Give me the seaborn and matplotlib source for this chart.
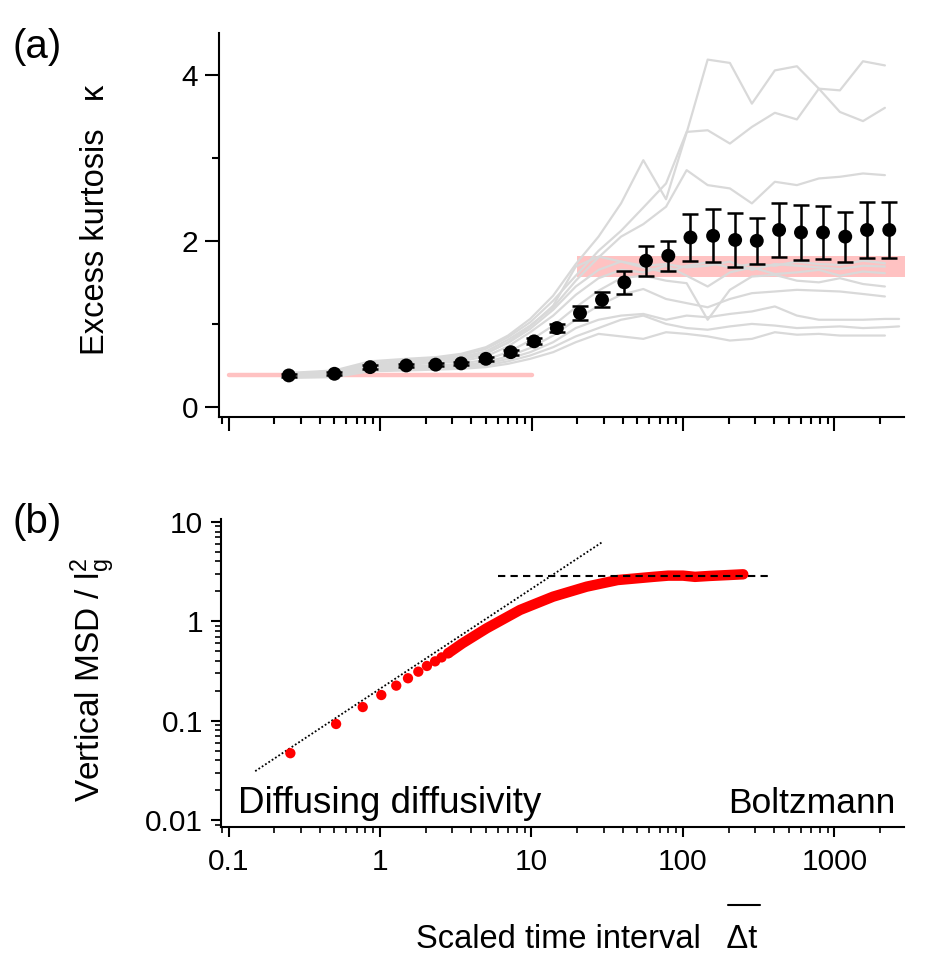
import numpy as np
import pandas as pd
import matplotlib
matplotlib.use("Agg")
import matplotlib.pyplot as plt
from matplotlib.ticker import MultipleLocator, LogLocator, FuncFormatter, NullFormatter
from matplotlib.lines import Line2D
import seaborn as sns

# ---------------- data: panel (a) ----------------
t_points = [0.25, 0.5, 0.86, 1.49, 2.33, 3.43, 5.0, 7.3, 10.4, 14.7, 20.9, 29.2, 41, 57,
            80, 112, 158, 221, 307, 431, 601, 840, 1178, 1640, 2300]
kappa_mean = [0.38, 0.40, 0.48, 0.50, 0.51, 0.525, 0.58, 0.66, 0.79, 0.95, 1.13, 1.29, 1.50,
              1.76, 1.82, 2.04, 2.06, 2.01, 2.00, 2.13, 2.10, 2.10, 2.05, 2.13, 2.13]
kappa_err = [0.02, 0.02, 0.02, 0.02, 0.02, 0.02, 0.025, 0.03, 0.035, 0.045, 0.08, 0.09, 0.14,
             0.18, 0.18, 0.28, 0.32, 0.32, 0.28, 0.32, 0.33, 0.32, 0.30, 0.34, 0.34]

t_traj = [0.25, 0.5, 0.86, 1.49, 2.33, 3.43, 5.0, 7.0, 9.8, 13.9, 19.6, 27.7, 39, 54.7, 77.3,
          105.7, 145.5, 204, 285, 404, 565, 789, 1086, 1542, 2152, 2670]
nan = np.nan
traj_A = [0.41, 0.44, 0.55, 0.58, 0.60, 0.64, 0.72, 0.86, 1.06, 1.34, 1.72, 2.05, 2.45, 2.97, 2.50,
          3.30, 4.18, 4.14, 3.65, 4.05, 4.10, 3.83, 3.81, 4.16, 4.11, nan]
traj_B = [0.40, 0.43, 0.53, 0.56, 0.58, 0.62, 0.70, 0.84, 1.02, 1.28, 1.58, 1.88, 2.12, 2.40, 2.69,
          3.31, 3.33, 3.17, 3.37, 3.54, 3.46, 3.83, 3.55, 3.44, 3.60, nan]
traj_C = [0.39, 0.42, 0.51, 0.54, 0.57, 0.60, 0.67, 0.81, 0.98, 1.20, 1.52, 1.80, 2.05, 2.20, 2.41,
          2.85, 2.67, 2.63, 2.45, 2.71, 2.67, 2.75, 2.77, 2.81, 2.79, nan]
traj_D = [0.38, 0.41, 0.49, 0.52, 0.54, 0.57, 0.64, 0.78, 0.97, 1.22, 1.69, 1.81, 1.75, 1.70, 1.72,
          1.68, 1.70, 1.75, 1.65, 1.72, 1.70, 1.68, 1.66, 1.70, 1.69, nan]
traj_E = [0.38, 0.40, 0.48, 0.51, 0.53, 0.55, 0.61, 0.73, 0.90, 1.10, 1.35, 1.55, 1.65, 1.62, 1.70,
          1.58, 1.45, 1.62, 1.68, 1.60, 1.62, 1.65, 1.58, 1.63, 1.61, nan]
traj_F = [0.37, 0.39, 0.47, 0.49, 0.50, 0.52, 0.57, 0.66, 0.80, 0.98, 1.20, 1.40, 1.55, 1.58, 1.52,
          1.49, 1.05, 1.41, 1.57, 1.59, 1.52, 1.50, 1.55, 1.48, 1.45, nan]
traj_G = [0.37, 0.38, 0.45, 0.47, 0.48, 0.50, 0.54, 0.61, 0.71, 0.86, 1.05, 1.22, 1.35, 1.42, 1.30,
          1.25, 1.20, 1.30, 1.37, 1.39, 1.41, 1.40, 1.39, 1.36, 1.33, nan]
traj_H = [0.37, 0.39, 0.45, 0.47, 0.48, 0.49, 0.52, 0.58, 0.66, 0.78, 0.95, 1.05, 1.10, 1.12, 1.05,
          1.10, 1.08, 1.12, 1.15, 1.21, 1.10, 1.05, 1.05, 1.05, 1.06, 1.06]
traj_I = [0.36, 0.37, 0.44, 0.46, 0.46, 0.47, 0.50, 0.55, 0.62, 0.72, 0.85, 0.95, 1.05, 1.10, 1.00,
          0.95, 0.93, 0.97, 1.00, 0.98, 0.95, 0.96, 0.97, 0.95, 0.96, 0.97]
traj_J = [0.35, 0.36, 0.43, 0.44, 0.45, 0.46, 0.48, 0.52, 0.58, 0.66, 0.78, 0.88, 0.85, 0.82, 0.90,
          0.88, 0.85, 0.80, 0.82, 0.90, 0.87, 0.88, 0.86, 0.86, 0.86, nan]
traj_K = [0.39, 0.42, 0.50, 0.53, 0.55, 0.58, 0.65, 0.77, 0.94, 1.17, 1.45, 1.65, 1.75, 1.68, 1.62,
          1.70, 1.74, 1.68, 1.72, 1.70, 1.75, 1.72, 1.71, 1.76, 1.73, nan]
trajectories = {"A": traj_A, "B": traj_B, "C": traj_C, "D": traj_D, "E": traj_E, "F": traj_F,
                "G": traj_G, "H": traj_H, "I": traj_I, "J": traj_J, "K": traj_K}

# Gaussian (low) and Boltzmann (high) reference levels
low_band_t = [0.1, 10]
low_band_k = [0.38, 0.38]
high_band_t = [20, 2900]
high_band_lo = [1.57, 1.57]
high_band_hi = [1.82, 1.82]

# ---------------- data: panel (b) ----------------
msd_t_dots = [0.256, 0.513, 0.769, 1.02, 1.28, 1.53, 1.79, 2.04, 2.31, 2.55, 2.82]
msd_dots = [0.047, 0.0925, 0.137, 0.181, 0.225, 0.267, 0.311, 0.355, 0.395, 0.433, 0.477]
msd_t_dense = [2.82, 3.5, 5.06, 8.4, 13.9, 23.1, 37.0, 63.7, 80, 100, 120, 150, 200, 250]
msd_dense = [0.477, 0.60, 0.85, 1.30, 1.77, 2.23, 2.60, 2.80, 2.88, 2.88, 2.80, 2.86, 2.92, 2.97]
fit_t = [0.15, 29.0]
fit_msd = [0.031, 6.2]
plateau_t = [6.0, 370]
plateau_msd = [2.86, 2.86]

# ---------------- figure ----------------
sns.set_theme(style="ticks")
plt.rcParams["font.family"] = ["Liberation Sans", "DejaVu Sans"]
plt.rcParams["mathtext.fontset"] = "custom"
plt.rcParams["mathtext.rm"] = "Liberation Sans"
plt.rcParams["mathtext.it"] = "Liberation Sans"
for key in ["text.color", "axes.labelcolor", "xtick.color", "ytick.color", "axes.edgecolor"]:
    plt.rcParams[key] = "black"

fig = plt.figure(figsize=(9.38, 9.71), dpi=100)
W, H = 938, 971
axA = fig.add_axes([219 / W, 1 - 417 / H, 685 / W, 384 / H])
axB = fig.add_axes([221 / W, 1 - 827 / H, 683 / W, 308 / H])

gray = "#d9d9d9"
pink = "#ffc2c2"

# ---- panel (a)
axA.set_xscale("log")
axA.fill_between(high_band_t, high_band_lo, high_band_hi, color=pink, lw=0, zorder=1)
axA.plot(low_band_t, low_band_k, color=pink, lw=3.2, solid_capstyle="round", zorder=1)

rows = []
for name, vals in trajectories.items():
    for t, v in zip(t_traj, vals):
        rows.append({"t": t, "kappa": v, "traj": name})
df_traj = pd.DataFrame(rows).dropna()
sns.lineplot(data=df_traj, x="t", y="kappa", units="traj", estimator=None, color=gray,
             lw=1.6, ax=axA, zorder=2, legend=False)

axA.errorbar(t_points, kappa_mean, yerr=kappa_err, fmt="none", ecolor="black",
             elinewidth=1.8, capsize=6, capthick=1.8, zorder=3)
sns.scatterplot(x=t_points, y=kappa_mean, color="black", s=100, edgecolor="none",
                ax=axA, zorder=4)

axA.set_xlim(0.0865, 2877)
axA.set_ylim(-0.12, 4.5)
axA.yaxis.set_major_locator(MultipleLocator(2))
axA.yaxis.set_minor_locator(MultipleLocator(1))
axA.xaxis.set_major_locator(LogLocator(base=10, numticks=20))
axA.xaxis.set_minor_locator(LogLocator(base=10, subs=np.arange(2, 10), numticks=20))
axA.xaxis.set_major_formatter(NullFormatter())
axA.xaxis.set_minor_formatter(NullFormatter())
axA.set_xlabel("")
axA.set_ylabel("Excess kurtosis   κ", fontsize=23.5)
axA.yaxis.set_label_coords(-0.158, 0.513)
axA.tick_params(which="major", length=10, width=1.5, labelsize=21.5, pad=5, color="black")
axA.tick_params(which="minor", length=5, width=1.5, color="black")
for s in ["top", "right"]:
    axA.spines[s].set_visible(False)
for s in ["left", "bottom"]:
    axA.spines[s].set_linewidth(1.5)
    axA.spines[s].set_color("black")

# ---- panel (b)
axB.set_xscale("log")
axB.set_yscale("log")
axB.plot(fit_t, fit_msd, color="black", lw=1.3, ls=(0, (1, 1.2)), zorder=2)
axB.plot(plateau_t, plateau_msd, color="black", lw=1.5, ls=(0, (3.5, 2.5)), zorder=4)
sns.lineplot(x=msd_t_dense, y=msd_dense, color="red", lw=7.5, sort=True, ax=axB,
             solid_capstyle="round", zorder=3)
sns.scatterplot(x=msd_t_dots, y=msd_dots, color="red", s=55, edgecolor="none", ax=axB,
                zorder=3)

axB.set_xlim(0.0892, 2877)
axB.set_ylim(0.0085, 10.7)
axB.xaxis.set_major_locator(LogLocator(base=10, numticks=20))
axB.xaxis.set_minor_locator(LogLocator(base=10, subs=np.arange(2, 10), numticks=20))
axB.yaxis.set_major_locator(LogLocator(base=10, numticks=20))
axB.yaxis.set_minor_locator(LogLocator(base=10, subs=np.arange(2, 10), numticks=20))
fmt = FuncFormatter(lambda v, _: f"{v:g}")
axB.xaxis.set_major_formatter(fmt)
axB.yaxis.set_major_formatter(fmt)
axB.xaxis.set_minor_formatter(NullFormatter())
axB.yaxis.set_minor_formatter(NullFormatter())
axB.set_xlabel("")
axB.set_ylabel(r"Vertical MSD / l$_{\mathregular{g}}^{\mathregular{2}}$", fontsize=24)
axB.yaxis.set_label_coords(-0.152, 0.477)
axB.tick_params(which="major", length=7, width=1.5, labelsize=21.5, color="black")
axB.tick_params(axis="y", which="major", pad=6)
axB.tick_params(axis="x", which="major", pad=8)
axB.tick_params(which="minor", length=4, width=1.2, color="black")
for s in ["top", "right"]:
    axB.spines[s].set_visible(False)
for s in ["left", "bottom"]:
    axB.spines[s].set_linewidth(1.5)
    axB.spines[s].set_color("black")

axB.text(0.025, 0.045, "Diffusing diffusivity", transform=axB.transAxes, fontsize=26.5,
         ha="left", va="baseline")
axB.text(0.987, 0.045, "Boltzmann", transform=axB.transAxes, fontsize=25.5,
         ha="right", va="baseline")

# panel letters and x label
fig.text(12 / W, 1 - 47 / H, "(a)", fontsize=29, ha="left", va="center")
fig.text(12 / W, 1 - 522 / H, "(b)", fontsize=29, ha="left", va="center")
fig.text(587 / W, 1 - 948 / H, "Scaled time interval   Δt", fontsize=23.5, ha="center",
         va="baseline")
fig.add_artist(Line2D([728 / W, 760 / W], [1 - 905 / H, 1 - 905 / H],
                      transform=fig.transFigure, color="black", lw=1.5))

fig.savefig("out.png", dpi=100)
